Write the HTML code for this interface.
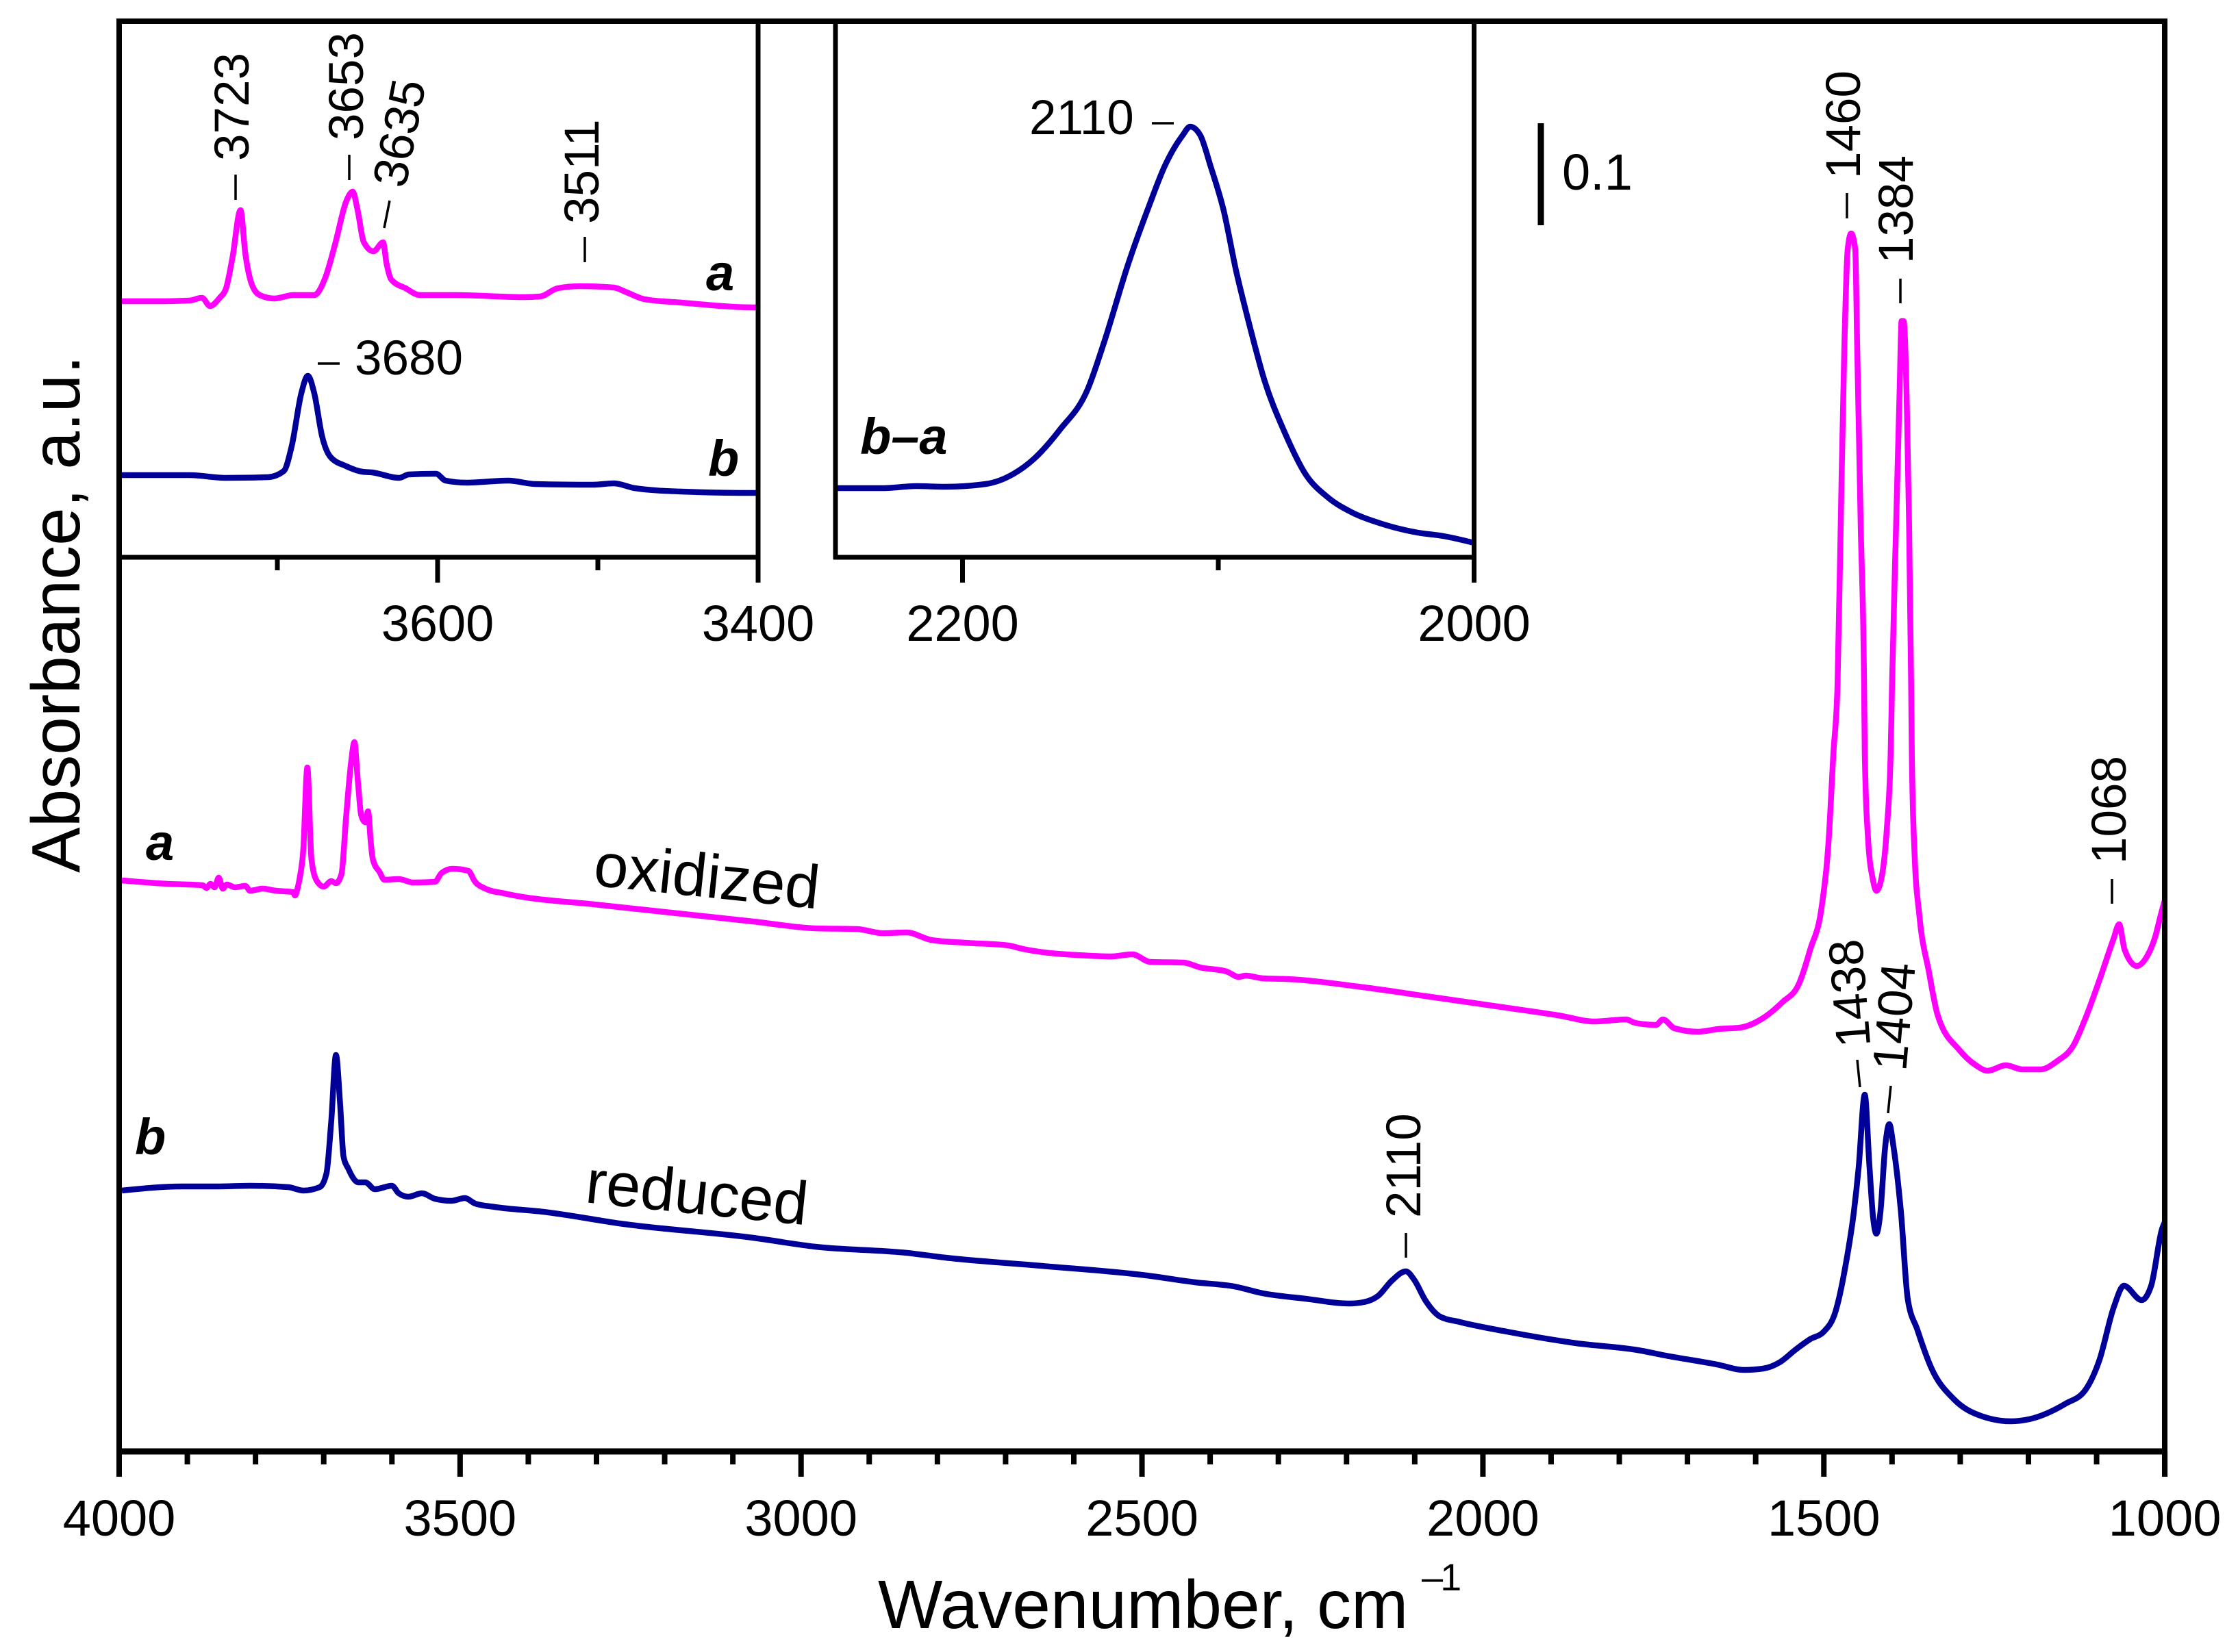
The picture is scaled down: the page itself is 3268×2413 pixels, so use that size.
<!DOCTYPE html>
<html lang="en">
<head>
<meta charset="utf-8">
<title>IR absorbance spectra</title>
<style>
html,body{margin:0;padding:0;background:#fff;}
svg{display:block;font-family:"Liberation Sans",Arial,sans-serif;fill:#000;}
.lbl{font-size:71px;}
.tick{font-size:74px;text-anchor:middle;}
.tag{font-size:74px;font-weight:bold;font-style:italic;}
.mk{stroke:#000;stroke-width:3.5;fill:none;}
.curve{fill:none;stroke-width:8.5;stroke-linejoin:round;stroke-linecap:butt;}
</style>
</head>
<body>
<svg id="chart" xmlns="http://www.w3.org/2000/svg" width="3268" height="2413" viewBox="0 0 3268 2413">
  <defs>
    <clipPath id="clip-main"><rect x="174" y="31" width="2987" height="2089"/></clipPath>
    <clipPath id="clip-in1"><rect x="174" y="31" width="933" height="783"/></clipPath>
    <clipPath id="clip-in2"><rect x="1220" y="31" width="932" height="783"/></clipPath>
  </defs>
  <g id="curves-main" clip-path="url(#clip-main)"></g>
  <g id="curves-in1" clip-path="url(#clip-in1)"></g>
  <g id="curves-in2" clip-path="url(#clip-in2)"></g>
  <g id="axes"></g>

  <text transform="translate(116 1275) rotate(-90)" font-size="100">Absorbance, a.u.</text>
  <text x="1282" y="2378" font-size="100">Wavenumber, cm</text>
  <text x="2076" y="2323" font-size="56" letter-spacing="-4">–1</text>

  <g>
    <text class="lbl" transform="translate(2716 261) rotate(-90)">1460</text>
    <line class="mk" x1="2697" y1="282" x2="2697" y2="319"/>
    <text class="lbl" transform="translate(2793 385) rotate(-90)">1384</text>
    <line class="mk" x1="2775" y1="407" x2="2775" y2="443"/>
    <text class="lbl" transform="translate(3104 1262) rotate(-90)">1068</text>
    <line class="mk" x1="3084" y1="1284" x2="3084" y2="1320"/>
    <text class="lbl" text-anchor="middle" transform="translate(2725 1449) rotate(-94.5)">1438</text>
    <line class="mk" x1="2712" y1="1548" x2="2716" y2="1588"/>
    <text class="lbl" text-anchor="middle" transform="translate(2790 1487) rotate(-85)">1404</text>
    <line class="mk" x1="2761" y1="1586" x2="2757" y2="1626"/>
    <text class="lbl" transform="translate(2074 1779) rotate(-90)">2110</text>
    <line class="mk" x1="2053" y1="1801" x2="2053" y2="1837"/>
  </g>

  <g>
    <text class="lbl" transform="translate(363 235) rotate(-90)">3723</text>
    <line class="mk" x1="344" y1="255" x2="344" y2="292"/>
    <text class="lbl" transform="translate(530 205) rotate(-90)">3653</text>
    <line class="mk" x1="510" y1="226" x2="510" y2="263"/>
    <text class="lbl" text-anchor="middle" transform="translate(607 199) rotate(-79)">3635</text>
    <line class="mk" x1="569" y1="293" x2="561" y2="333"/>
    <text class="lbl" transform="translate(874 327) rotate(-90)">3511</text>
    <line class="mk" x1="854" y1="346" x2="854" y2="383"/>
    <text class="lbl" x="518" y="547">3680</text>
    <line class="mk" x1="464" y1="531" x2="496" y2="531"/>
    <text class="tag" x="1031" y="424">a</text>
    <text class="tag" x="1034" y="695">b</text>
  </g>

  <g>
    <text class="lbl" x="1503" y="196">2110</text>
    <line class="mk" x1="1682" y1="180" x2="1714" y2="180"/>
    <text class="tag" x="1256" y="663">b–a</text>
  </g>

  <line x1="2250" y1="180" x2="2250" y2="329" stroke="#000" stroke-width="9"/>
  <text x="2281" y="277" font-size="74">0.1</text>

  <text class="tag" x="213" y="1256">a</text>
  <text class="tag" x="197" y="1686">b</text>
  <text transform="translate(865 1293) rotate(6)" font-size="90">oxidized</text>
  <text transform="translate(853 1756) rotate(5.9)" font-size="90">reduced</text>
</svg>

<script>
// Main panel: wavenumber (cm-1) and absorbance height (arbitrary units)
const oxidizedWave = [3996,3929,3878,3872,3866,3860,3854,3848,3842,3830,3815,3808,3801,3790,3770,3745,3742,3738,3735,3730,3724,3718,3710,3700,3689,3682,3674,3667,3660,3655,3650,3645,3639,3635,3631,3628,3618,3611,3590,3569,3537,3527,3511,3488,3478,3463,3435,3294,3070,2979,2918,2880,2845,2809,2760,2696,2675,2577,2545,2514,2488,2439,2415,2376,2358,2348,2323,2288,2168,2084,1965,1890,1836,1790,1777,1746,1736,1719,1685,1654,1623,1589,1561,1537,1520,1503,1493,1486,1480,1474,1470,1465,1460,1454,1451,1446,1441,1440,1435,1428,1423,1416,1408,1402,1400,1394,1389,1386,1383,1378,1375,1372,1371,1367,1360,1346,1333,1301,1277,1260,1233,1209,1182,1158,1134,1117,1096,1075,1067,1059,1041,1028,1014,1005,1000];
const oxidizedAbs = [834,829,827,823,829,824,838,822,828,824,826,819,820,822,819,817,812,824,839,878,999,865,833,825,833,830,843,929,1005,1036,980,929,919,935,890,865,846,835,836,831,832,845,851,848,832,822,815,798,774,764,763,757,758,747,743,739,734,724,723,726,715,714,707,701,693,695,691,690,677,665,648,637,628,631,626,623,631,618,613,617,619,633,656,682,733,797,892,1020,1120,1419,1610,1756,1779,1756,1610,1355,1120,1020,892,835,819,835,905,1020,1120,1355,1546,1651,1651,1514,1355,1120,1020,873,784,701,637,586,564,556,564,558,558,570,593,631,688,749,770,733,709,720,752,787,805];
const reducedWave = [3996,3907,3857,3808,3752,3730,3706,3696,3689,3682,3676,3671,3664,3649,3639,3625,3600,3590,3576,3556,3537,3513,3493,3478,3449,3378,3259,3070,2979,2845,2788,2647,2493,2422,2365,2323,2260,2196,2175,2154,2133,2113,2101,2084,2063,2034,1965,1863,1773,1732,1657,1617,1589,1565,1541,1520,1500,1483,1469,1456,1449,1440,1433,1428,1423,1417,1410,1404,1398,1387,1377,1363,1342,1309,1267,1226,1199,1145,1117,1096,1075,1060,1034,1020,1004,1000];
const reducedAbs = [381,387,387,388,386,381,386,406,482,579,508,431,413,393,393,383,388,377,372,377,369,366,370,362,357,350,332,312,299,290,283,271,257,247,241,231,223,216,218,227,250,263,251,220,197,189,175,158,148,140,127,119,121,130,149,164,175,204,267,350,414,521,414,344,318,350,446,478,446,350,223,178,121,76,51,44,47,70,89,133,210,242,221,242,325,335];

// Inset 1 (O-H region)
const insetOxWave = [3797,3775,3755,3747,3742,3736,3732,3728,3723,3720,3716,3711,3702,3690,3677,3670,3664,3657,3653,3650,3646,3640,3634,3632,3629,3620,3611,3589,3546,3536,3525,3511,3490,3482,3471,3448,3402,3400];
const insetOxAbs = [374,374,375,379,367,379,393,438,507,444,399,383,378,383,383,409,457,520,534,508,460,447,460,431,406,393,383,383,380,381,393,396,394,387,377,372,365,365];
const insetRedWave = [3797,3755,3732,3706,3696,3691,3685,3681,3677,3672,3667,3657,3647,3641,3624,3618,3601,3595,3582,3556,3539,3503,3490,3477,3448,3402,3400];
const insetRedAbs = [120,120,116,117,126,163,240,265,240,176,147,133,125,124,116,121,122,112,109,112,107,106,108,101,96,94,94];

// Inset 2 (difference spectrum)
const diffWave = [2250,2231,2218,2207,2191,2180,2172,2162,2151,2145,2135,2127,2121,2114,2111,2107,2103,2098,2093,2088,2082,2074,2066,2057,2048,2037,2022,2012,2000];
const diffAbs = [101,101,104,103,107,122,144,186,246,310,431,514,571,616,629,616,571,508,418,342,259,182,122,87,66,50,36,31,21];

// Tick values
const mainMajorTicks = [4000,3500,3000,2500,2000,1500,1000];
const mainMinorTicks = [3900,3800,3700,3600,3400,3300,3200,3100,2900,2800,2700,2600,2400,2300,2200,2100,1900,1800,1700,1600,1400,1300,1200,1100];
const oxMajorTicks = [3600,3400];
const oxMinorTicks = [3700,3500];
const coMajorTicks = [2200,2000];
const coMinorTicks = [2100];

const NS = 'http://www.w3.org/2000/svg';
const xMain = v => 174 + (4000 - v) * 0.9957;
const yMain = a => 2120 - a;
const xOx = v => 1107 - (v - 3400) * 2.34;
const xCo = v => 2152.5 - (v - 2000) * 3.735;
const yInset = a => 814 - a;

// Monotone cubic through the points (no overshoot at peaks)
function monotonePath(px, py) {
  const n = px.length;
  const sec = [];
  for (let i = 0; i < n - 1; i++) sec.push((py[i + 1] - py[i]) / (px[i + 1] - px[i]));
  const t = new Array(n).fill(0);
  for (let i = 1; i < n - 1; i++) {
    const h0 = px[i] - px[i - 1];
    const h1 = px[i + 1] - px[i];
    const p = (sec[i - 1] * h1 + sec[i] * h0) / (h0 + h1);
    t[i] = (Math.sign(sec[i - 1]) + Math.sign(sec[i])) * Math.min(Math.abs(sec[i - 1]), Math.abs(sec[i]), 0.5 * Math.abs(p));
  }
  t[0] = (3 * sec[0] - t[1]) / 2;
  t[n - 1] = (3 * sec[n - 2] - t[n - 2]) / 2;
  let d = 'M' + px[0].toFixed(1) + ' ' + py[0].toFixed(1);
  for (let i = 0; i < n - 1; i++) {
    const dx = (px[i + 1] - px[i]) / 3;
    d += 'C' + (px[i] + dx).toFixed(1) + ' ' + (py[i] + dx * t[i]).toFixed(1) + ' ' +
         (px[i + 1] - dx).toFixed(1) + ' ' + (py[i + 1] - dx * t[i + 1]).toFixed(1) + ' ' +
         px[i + 1].toFixed(1) + ' ' + py[i + 1].toFixed(1);
  }
  return d;
}

function drawCurve(parentId, name, color, xs, ys, xf, yf) {
  const p = document.createElementNS(NS, 'path');
  
  
  p.setAttribute('class', 'curve');
  p.setAttribute('stroke', color);
  p.setAttribute('d', monotonePath(xs.map(xf), ys.map(yf)));
  document.getElementById(parentId).appendChild(p);
}
function drawLine(name, x1, y1, x2, y2, w) {
  const l = document.createElementNS(NS, 'line');
  
  
  l.setAttribute('x1', x1);
  l.setAttribute('y1', y1);
  l.setAttribute('x2', x2);
  l.setAttribute('y2', y2);
  l.setAttribute('stroke', '#000');
  l.setAttribute('stroke-width', w);
  document.getElementById('axes').appendChild(l);
}
function drawTickLabel(value, x, y) {
  const t = document.createElementNS(NS, 'text');
  
  
  t.setAttribute('class', 'tick');
  t.setAttribute('x', x);
  t.setAttribute('y', y);
  t.textContent = value;
  document.getElementById('axes').appendChild(t);
}

drawCurve('curves-main', 'curve-a-oxidized', '#ff00ff', oxidizedWave, oxidizedAbs, xMain, yMain);
drawCurve('curves-main', 'curve-b-reduced', '#000099', reducedWave, reducedAbs, xMain, yMain);
drawCurve('curves-in1', 'inset-curve-a', '#ff00ff', insetOxWave, insetOxAbs, xOx, yInset);
drawCurve('curves-in1', 'inset-curve-b', '#000099', insetRedWave, insetRedAbs, xOx, yInset);
drawCurve('curves-in2', 'inset-curve-b-minus-a', '#000099', diffWave, diffAbs, xCo, yInset);

// Main frame
drawLine('frame-left', 174, 27, 174, 2157, 8);
drawLine('frame-top', 170, 31, 3165, 31, 8);
drawLine('frame-right', 3161, 27, 3161, 2157, 8);
drawLine('frame-bottom', 170, 2120, 3165, 2120, 9);
mainMajorTicks.forEach(v => {
  drawLine('x-major-tick', xMain(v), 2120, xMain(v), 2157, 8);
  drawTickLabel(v, xMain(v), 2243);
});
mainMinorTicks.forEach(v => {
  drawLine('x-minor-tick', xMain(v), 2120, xMain(v), 2139, 8);
});

// Inset 1 axes
drawLine('inset-oh-right', 1107, 31, 1107, 851, 7);
drawLine('inset-oh-bottom', 174, 814, 1110, 814, 7);
oxMajorTicks.forEach(v => {
  drawLine('inset-oh-major-tick', xOx(v), 814, xOx(v), 851, 7);
  drawTickLabel(v, xOx(v), 936);
});
oxMinorTicks.forEach(v => {
  drawLine('inset-oh-minor-tick', xOx(v), 814, xOx(v), 833, 7);
});

// Inset 2 axes
drawLine('inset-co-left', 1220, 31, 1220, 817, 7);
drawLine('inset-co-right', 2152.5, 31, 2152.5, 851, 7);
drawLine('inset-co-bottom', 1217, 814, 2155, 814, 7);
coMajorTicks.forEach(v => {
  drawLine('inset-co-major-tick', xCo(v), 814, xCo(v), 851, 7);
  drawTickLabel(v, xCo(v), 936);
});
coMinorTicks.forEach(v => {
  drawLine('inset-co-minor-tick', xCo(v), 814, xCo(v), 833, 7);
});
</script>
</body>
</html>
